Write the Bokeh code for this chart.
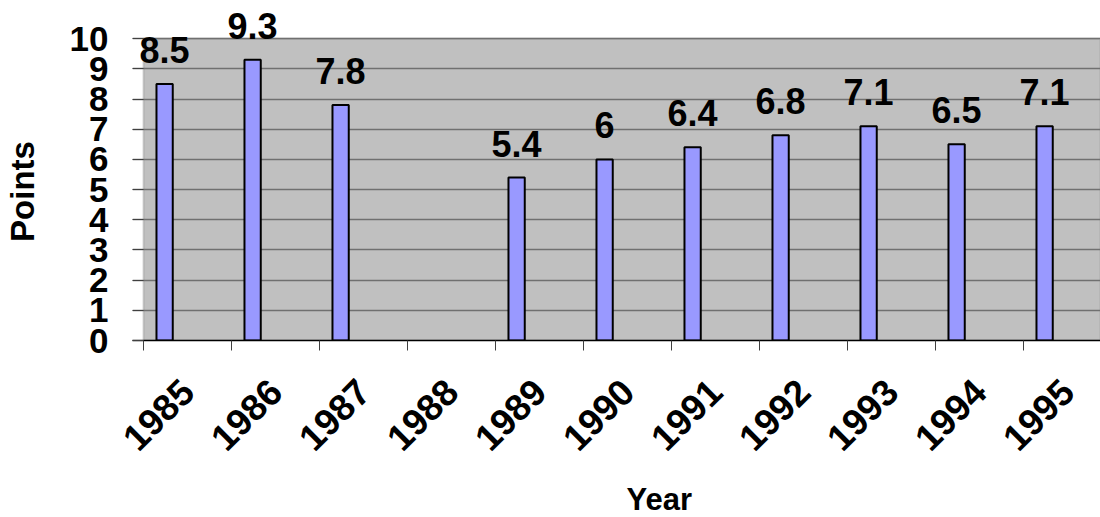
import math
from bokeh.plotting import figure
from bokeh.layouts import row, column
from bokeh.models import (ColumnDataSource, Range1d, FixedTicker, LabelSet, BoxAnnotation)
from bokeh.transform import dodge
from bokeh.core.properties import value
from bokeh.embed import file_html
from bokeh.resources import INLINE

years = ["1985", "1986", "1987", "1988", "1989", "1990", "1991", "1992", "1993", "1994", "1995"]
points = [8.5, 9.3, 7.8, None, 5.4, 6.0, 6.4, 6.8, 7.1, 6.5, 7.1]
value_labels = ["8.5", "9.3", "7.8", "", "5.4", "6", "6.4", "6.8", "7.1", "6.5", "7.1"]
y_ticks = list(range(0, 11))
y_max = 10
x_title = "Year"
y_title = "Points"

idx = [i for i, v in enumerate(points) if v is not None]
src = ColumnDataSource(dict(
    idx=idx,
    val=[points[i] for i in idx],
    lab=[value_labels[i] for i in idx],
))

FONT = "Liberation Sans"
W, H = 1100, 517
W_L = 60          # strip holding the y title
H_B = 47          # strip holding the x title

# ---------------- main chart ----------------
p = figure(width=W - W_L, height=H - H_B, output_backend="svg", toolbar_location=None,
           x_range=Range1d(-0.625, 10.375), y_range=Range1d(0, 11.1),
           min_border_left=132 - W_L, min_border_right=0, min_border_top=5,
           min_border_bottom=130)
p.background_fill_color = "white"
p.border_fill_color = "white"
p.outline_line_color = None

panel = BoxAnnotation(left=-0.5, bottom=0, top=y_max, fill_color="#C0C0C0", fill_alpha=1.0,
                      line_color="#808080", line_width=2, level="image")
p.add_layout(panel)

p.vbar(x=dodge("idx", -0.26, range=p.x_range), top="val", width=0.185, source=src,
       fill_color="#9999FF", line_color="black", line_width=2)

labels = LabelSet(x=dodge("idx", -0.26, range=p.x_range), y="val", text="lab", source=src,
                  text_align="center", text_baseline="alphabetic", y_offset=21,
                  text_font=value(FONT), text_font_style="bold", text_font_size="36px",
                  text_color="black", level="overlay")
p.add_layout(labels)

# y axis
p.yaxis.ticker = FixedTicker(ticks=y_ticks)
p.yaxis.axis_line_color = None
p.yaxis.major_tick_line_color = "#404040"
p.yaxis.major_tick_out = 0
p.yaxis.major_tick_in = 11
p.yaxis.minor_tick_line_color = None
p.yaxis.major_label_standoff = 24
p.yaxis.major_label_text_font = FONT
p.yaxis.major_label_text_font_style = "bold"
p.yaxis.major_label_text_font_size = "35px"
p.yaxis.major_label_text_color = "black"

# x axis
p.xaxis.ticker = FixedTicker(ticks=list(range(len(years))),
                             minor_ticks=[i - 0.5 for i in range(len(years) + 1)])
p.xaxis.major_label_overrides = {i: y for i, y in enumerate(years)}
p.xaxis.axis_line_color = "black"
p.xaxis.axis_line_width = 1.5
p.xaxis.major_tick_line_color = None
p.xaxis.minor_tick_line_color = "#404040"
p.xaxis.minor_tick_out = 10
p.xaxis.minor_tick_in = 0
p.xaxis.major_label_orientation = math.pi / 4
p.xaxis.major_label_standoff = 35
p.xaxis.major_label_text_font = FONT
p.xaxis.major_label_text_font_style = "bold"
p.xaxis.major_label_text_font_size = "37px"
p.xaxis.major_label_text_color = "black"

p.xgrid.grid_line_color = None
p.ygrid.ticker = FixedTicker(ticks=y_ticks)
p.ygrid.grid_line_color = "#707070"
p.ygrid.grid_line_width = 1.5

# ---------------- y title strip ----------------
left = figure(width=W_L, height=H, output_backend="svg", toolbar_location=None,
              x_range=Range1d(0, W_L), y_range=Range1d(0, H),
              x_axis_location=None, y_axis_location=None, min_border=0)
left.grid.visible = False
left.outline_line_color = None
left.background_fill_color = "white"
left.border_fill_color = "white"
left.text(x=[22], y=[H - 191], text=[y_title], angle=math.pi / 2,
          text_align="center", text_baseline="middle",
          text_font=value(FONT), text_font_style="bold", text_font_size="33px",
          text_color="black")

# ---------------- x title strip ----------------
bottom = figure(width=W - W_L, height=H_B, output_backend="svg", toolbar_location=None,
                x_range=Range1d(W_L, W), y_range=Range1d(0, H_B),
                x_axis_location=None, y_axis_location=None, min_border=0)
bottom.grid.visible = False
bottom.outline_line_color = None
bottom.background_fill_color = "white"
bottom.border_fill_color = "white"
bottom.text(x=[626], y=[H - 499], text=[x_title],
            text_align="center", text_baseline="middle",
            text_font=value(FONT), text_font_style="bold", text_font_size="31px",
            text_color="black")

layout = row(left, column(p, bottom, spacing=0), spacing=0)

open("out.html", "w").write(file_html(layout, INLINE))
